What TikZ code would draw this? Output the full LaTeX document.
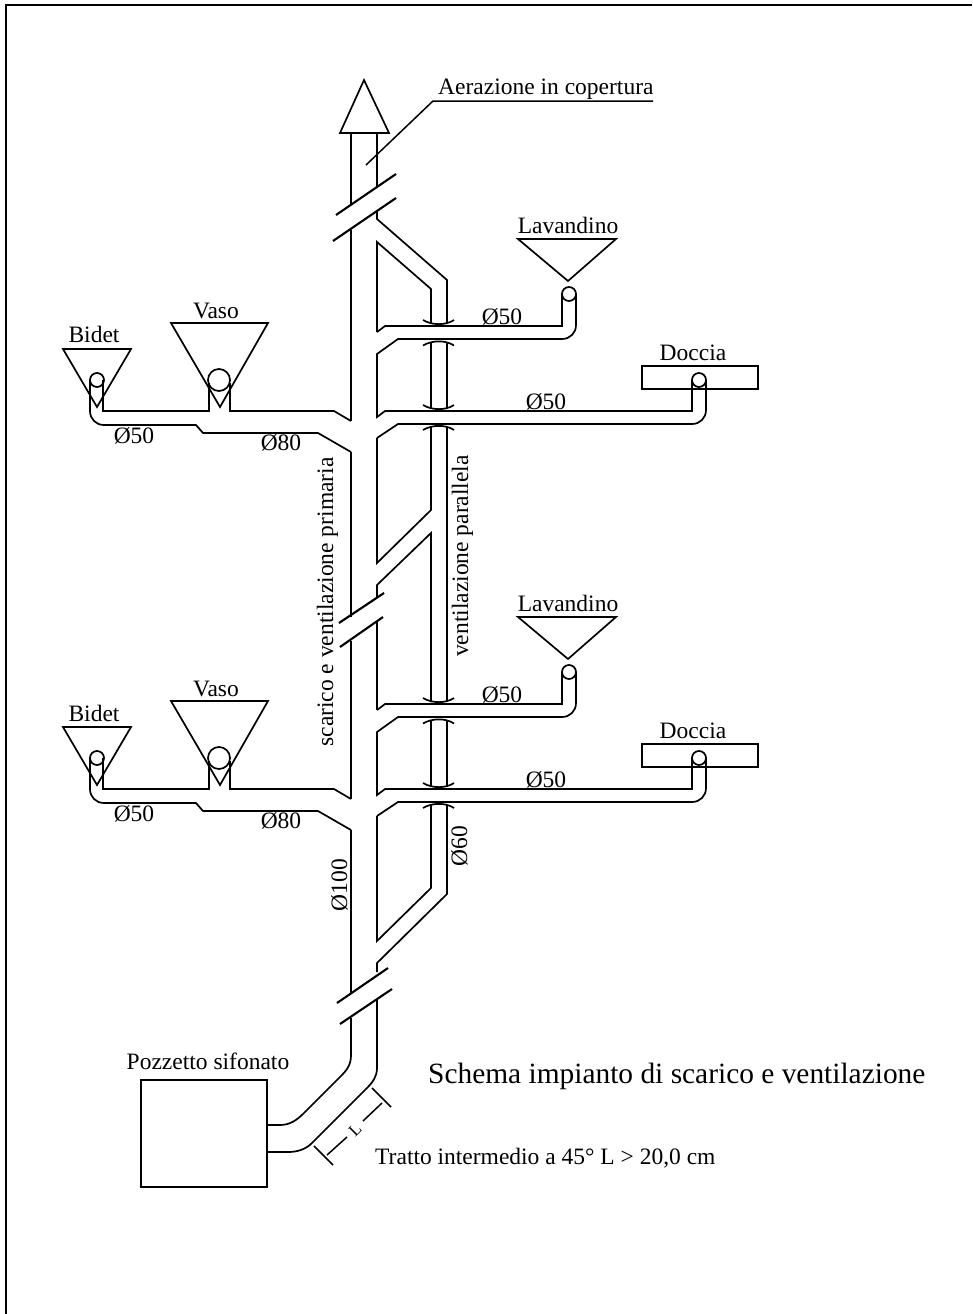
\documentclass[tikz,border=0pt]{standalone}
\usepackage{fontspec}
\setmainfont{Liberation Serif}
\tikzset{
  pipe/.style={line width=1.7pt,line join=miter},
  cutmark/.style={line width=2.1pt},
  frameline/.style={line width=1.6pt,draw=black},
  lab/.style={inner sep=0pt,anchor=base,font=\fontsize{23.5}{23.5}\selectfont},
  vlab/.style={inner sep=0pt,anchor=base,rotate=90,font=\fontsize{23.5}{23.5}\selectfont},
}
\newcommand{\fixture}[1]{%
  \begin{scope}[shift={(0,#1)}]
    % Bidet
    \draw[pipe] (63,349) -- (131,349) -- (97,407) -- cycle;
    \draw[pipe] (97,380) circle[radius=7];
    % Vaso
    \draw[pipe] (171,323) -- (268,323) -- (220,407) -- cycle;
    \draw[pipe] (219,380) circle[radius=11];
    % left branch
    \draw[pipe] (351,421) -- (334,411) -- (230,411) -- (230,383);
    \draw[pipe] (209,383) -- (209,411) -- (103,411) -- (103,380);
    \draw[pipe] (90,380) -- (90,411) .. controls (90,419) and (96,425) .. (104,425) -- (196,425) -- (203,433) -- (318,433) -- (351,452);
    % Lavandino
    \draw[pipe] (518,239) -- (616,239) -- (568,281) -- cycle;
    \draw[pipe] (569,294) circle[radius=7];
    \draw[pipe] (377,332) -- (385,326) -- (562,326) -- (562,294);
    \draw[pipe] (576,294) -- (576,325) .. controls (576,333) and (570,339) .. (562,339) -- (398,339) -- (377,354) -- (377,417) -- (385,411) -- (692,411) -- (692,380);
    % Doccia
    \draw[pipe] (642,366) rectangle (758,389);
    \draw[pipe] (699,380) circle[radius=7];
    \draw[pipe] (706,380) -- (706,410) .. controls (706,418) and (700,424) .. (692,424) -- (398,424) -- (377,438);
    % vent stubs between branches
    \draw[pipe] (431,342) -- (431,408) (447,342) -- (447,408);
    \draw[pipe] (423,320) .. controls (432,325.5) and (446,325.5) .. (454,320);
    \draw[pipe] (423,345.5) .. controls (432,340) and (446,340) .. (454,345.5);
    \draw[pipe] (423,405) .. controls (432,410.5) and (446,410.5) .. (454,405);
    \draw[pipe] (423,430) .. controls (432,424.5) and (446,424.5) .. (454,430);
  \end{scope}}
\begin{document}
\begin{tikzpicture}[x=1pt,y=-1pt]
\useasboundingbox (0,0) rectangle (972,1314);
\draw[frameline] (6,1314) -- (6,5) -- (972,5);
% Roof vent
\draw[pipe] (364,80) -- (389,133) -- (340,133) -- cycle;
\draw[pipe] (351,133) -- (351,205);
\draw[pipe] (377,133) -- (377,186);
\coordinate (leadS) at (366,165);
\coordinate (leadM) at (433,101);
\coordinate (leadE) at (653,101);
\draw[line width=1.5pt] (leadS) -- (leadM) -- (leadE);
\draw[cutmark] (336,215) -- (396,174);
\draw[cutmark] (333,241) -- (396,198);
% Stack left wall
\draw[pipe] (351,230) -- (351,421);
\draw[pipe] (351,452) -- (351,617);
\draw[pipe] (351,641) -- (351,799);
\draw[pipe] (351,830) -- (351,993);
\draw[pipe] (351,1018) -- (351,1055) .. controls (351,1065) and (347,1070) .. (340,1077) -- (304,1113) .. controls (297,1120) and (290,1125) .. (280,1125) -- (267,1125);
% Stack right wall and top vent
\draw[pipe] (377,210) -- (377,219) -- (447,280) -- (447,323);
\draw[pipe] (377,332) -- (377,242) -- (431,289) -- (431,323);
% ventilation middle
\draw[pipe] (377,438) -- (377,563) -- (431,510) -- (431,427);
\draw[pipe] (447,427) -- (447,702);
\draw[pipe] (377,597) -- (377,585) -- (431,533) -- (431,702);
\draw[pipe] (377,622) -- (377,710);
\draw[cutmark] (339,623) -- (384,593);
\draw[cutmark] (340,647) -- (383,617);
\fixture{0}
\fixture{378}
% lower ventilation
\draw[pipe] (377,816) -- (377,941) -- (431,888) -- (431,805);
\draw[pipe] (447,805) -- (447,894) -- (377,963) -- (377,972);
\draw[cutmark] (337,1003) -- (388,968);
\draw[cutmark] (340,1024) -- (392,989);
\draw[pipe] (377,999) -- (377,1068) .. controls (377,1076) and (373,1082) .. (368,1087) -- (312,1143) .. controls (306,1149) and (298,1152) .. (288,1152) -- (267,1152);
% Pozzetto
\node[draw,line width=1.7pt,minimum width=126pt,minimum height=107pt,inner sep=0pt] (pozzetto) at (204,1133.5) {};
% Dimension
\draw[line width=1.5pt] (314,1146) -- (333,1165);
\draw[line width=1.5pt] (372,1088) -- (391,1107);
\draw[line width=1.5pt] (327,1155) -- (347,1137);
\draw[line width=1.5pt] (363,1121) -- (382,1103);
\node[inner sep=0pt,rotate=45,font=\fontsize{17}{17}\selectfont] (dimL) at (355,1130) {L};
% Labels
\node[lab,anchor=base west] (t1) at (438,94) {Aerazione in copertura};
\node[lab] (t2) at (568,233) {Lavandino};
\node[lab] (t3) at (568,611) {Lavandino};
\node[lab] (t4) at (693,360) {Doccia};
\node[lab] (t5) at (693,738) {Doccia};
\node[lab] (t6) at (216,318) {Vaso};
\node[lab] (t7) at (216,696) {Vaso};
\node[lab] (t8) at (94,342) {Bidet};
\node[lab] (t9) at (94,721) {Bidet};
\node[lab] (d1) at (502,324) {Ø50};
\node[lab] (d2) at (546,409) {Ø50};
\node[lab] (d3) at (502,702) {Ø50};
\node[lab] (d4) at (546,787) {Ø50};
\node[lab] (d5) at (134,443) {Ø50};
\node[lab] (d6) at (134,821) {Ø50};
\node[lab] (d7) at (281,450) {Ø80};
\node[lab] (d8) at (281,828) {Ø80};
\node[vlab] (v1) at (333,602) {scarico e ventilazione primaria};
\node[vlab] (v2) at (468,556) {ventilazione parallela};
\node[vlab] (v3) at (467,846) {Ø60};
\node[vlab] (v4) at (347,885) {Ø100};
\node[lab] (p1) at (208,1069) {Pozzetto sifonato};
\node[lab,anchor=base west,font=\fontsize{29.4}{29.4}\selectfont] (title) at (428,1083) {Schema impianto di scarico e ventilazione};
\node[lab,anchor=base west] (note) at (375,1164) {Tratto intermedio a 45° L > 20,0 cm};
\end{tikzpicture}
\end{document}
